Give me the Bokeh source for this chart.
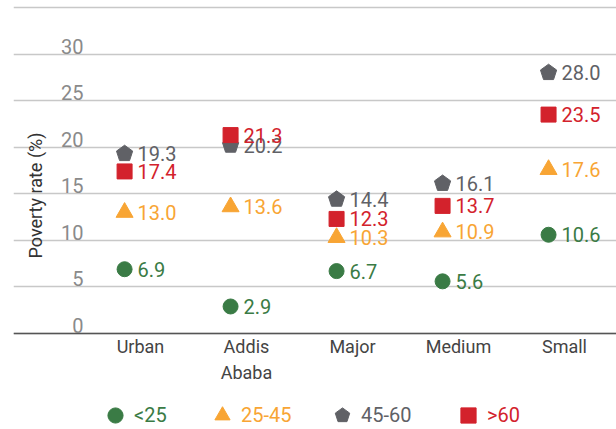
import math
from bokeh.plotting import figure
from bokeh.models import (ColumnDataSource, Range1d, FixedTicker, Legend, LegendItem,
                          Label, LinearAxis)
from bokeh.transform import dodge
from bokeh.core.properties import value
from bokeh.embed import file_html
from bokeh.resources import INLINE

categories = ["Urban", "Addis\nAbaba", "Major", "Medium", "Small"]
series_names = ["<25", "25-45", "45-60", ">60"]
under25 = [6.9, 2.9, 6.7, 5.6, 10.6]
age25_45 = [13.0, 13.6, 10.3, 10.9, 17.6]
age45_60 = [19.3, 20.2, 14.4, 16.1, 28.0]
over60 = [17.4, 21.3, 12.3, 13.7, 23.5]
y_ticks = [0, 5, 10, 15, 20, 25, 30]

colors = ["#3a7b45", "#f8a534", "#606166", "#d3222c"]
markers = ["circle", "triangle", "pentagon", "square"]
series_values = [under25, age25_45, age45_60, over60]

FONT = "Roboto"

p = figure(width=616, height=429, frame_width=603, frame_height=429,
           output_backend="svg", toolbar_location=None,
           x_range=Range1d(-1.198, 4.491), y_range=Range1d(-10.307, 35.75),
           min_border_left=13, min_border_right=0, min_border_top=0, min_border_bottom=0,
           y_axis_location=None)
p.outline_line_color = None
p.xgrid.visible = False
p.ygrid.ticker = FixedTicker(ticks=y_ticks + [35])
p.ygrid.grid_line_color = "#c8c8c8"
p.ygrid.grid_line_width = 1.5

# y axis labels drawn inside the frame, slightly above their gridlines
p.extra_y_ranges = {"lab": Range1d(-10.307 - 0.86, 35.75 - 0.86)}
yaxis = LinearAxis(ticker=FixedTicker(ticks=y_ticks), y_range_name="lab",
                   fixed_location=-0.538)
yaxis.axis_line_color = None
yaxis.major_tick_line_color = None
yaxis.minor_tick_line_color = None
yaxis.major_tick_out = 0
yaxis.major_label_standoff = 0
yaxis.major_label_text_font = FONT
yaxis.major_label_text_font_size = "20px"
yaxis.major_label_text_color = "#8a8a8a"
p.add_layout(yaxis, "left")

# x axis along y = 0
xaxis = p.xaxis[0]
xaxis.fixed_location = 0
xaxis.ticker = FixedTicker(ticks=list(range(len(categories))))
xaxis.major_label_overrides = {i: c for i, c in enumerate(categories)}
xaxis.axis_line_color = "#555555"
xaxis.axis_line_width = 1.5
xaxis.major_tick_line_color = None
xaxis.minor_tick_line_color = None
xaxis.major_tick_out = 0
xaxis.major_label_standoff = 3
xaxis.major_label_text_font = FONT
xaxis.major_label_text_font_size = "18px"
xaxis.major_label_text_color = "#444444"

shift = -0.15
legend_items = []
for name, vals, col, mk in zip(series_names, series_values, colors, markers):
    src = ColumnDataSource(dict(x=list(range(len(categories))), y=vals,
                                lab=[f"{v:.1f}" for v in vals]))
    if mk == "pentagon":
        r = p.ngon(x=dodge("x", shift), y="y", radius=8.5, radius_units="screen", n=5,
                   angle=0, fill_color=col, line_color=col, source=src)
    else:
        size = {"circle": 15, "triangle": 17, "square": 15}[mk]
        r = p.scatter(x=dodge("x", shift), y="y", marker=mk, size=size,
                      fill_color=col, line_color=col, source=src)
    p.text(x=dodge("x", shift), y="y", text="lab", x_offset=13, source=src,
           text_font=value(FONT), text_font_size="20px", text_color=col,
           text_align="left", text_baseline="middle")
    legend_items.append((name, r, col))

leg_x = [83, 190, 310, 436]
for (name, r, col), lx in zip(legend_items, leg_x):
    lg = Legend(items=[LegendItem(label=name, renderers=[r])],
                location=(lx, -5), orientation="horizontal",
                padding=0, margin=0, border_line_color=None,
                background_fill_alpha=0, glyph_width=38, glyph_height=38,
                label_standoff=0, label_text_font=FONT, label_text_font_size="20px",
                label_text_color=col, label_height=18)
    p.add_layout(lg, "center")

p.add_layout(Label(x=22, y=234, x_units="screen", y_units="screen",
                   text="Poverty rate (%)", angle=math.pi / 2,
                   text_font=FONT, text_font_size="18px", text_color="#333333",
                   text_align="center", text_baseline="middle"))

open("out.html", "w").write(file_html(p, INLINE))
